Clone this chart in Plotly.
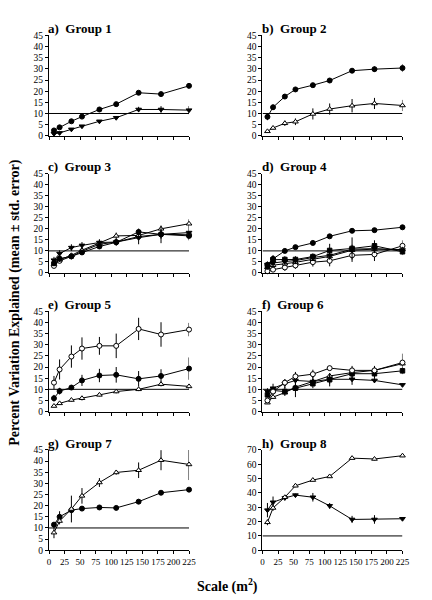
import plotly.graph_objects as go

# ---- data ----
scale = [8, 17, 36, 53, 81, 108, 144, 180, 225]
x_ticks = [0, 25, 50, 75, 100, 125, 150, 175, 200, 225]
threshold = 10

panel_titles = ["a)  Group 1", "b)  Group 2", "c)  Group 3", "d)  Group 4",
                "e)  Group 5", "f)  Group 6", "g)  Group 7", "h)  Group 8"]

# Group 1
a_circle = [2.4, 3.8, 6.5, 8.6, 11.8, 14.2, 19.3, 18.7, 22.4]
a_circle_err = [0.8, 0.5, 0.5, 0.5, 0.5, 0.5, 0.8, 0.8, 1.2]
a_tridown = [0.9, 1.3, 2.9, 4.3, 6.5, 8.1, 11.8, 11.8, 11.5]
a_tridown_err = [0.5, 0.5, 0.5, 0.5, 0.5, 0.5, 1.2, 1.5, 1.8]
# Group 2
b_circle = [8.5, 12.8, 17.6, 20.8, 22.7, 24.8, 29.2, 29.9, 30.4]
b_circle_err = [1.5, 1.2, 1.0, 0.8, 0.6, 0.6, 1.0, 1.2, 1.8]
b_tri = [2.0, 3.5, 5.6, 6.3, 9.8, 12.0, 13.5, 14.5, 13.6]
b_tri_err = [0.5, 0.8, 1.2, 1.5, 2.5, 2.5, 3.0, 2.5, 2.5]
# Group 3
c_tridown = [5.8, 8.8, 11.5, 12.5, 13.8, 14.0, 16.0, 17.5, 18.3]
c_tridown_err = [1.5, 1.5, 1.5, 1.5, 1.5, 1.5, 3.0, 4.0, 2.0]
c_circle = [4.5, 6.5, 7.5, 9.3, 12.0, 13.9, 18.6, 17.5, 16.8]
c_circle_err = [1.0, 1.0, 1.0, 1.0, 1.0, 1.5, 1.5, 2.0, 2.0]
c_tri = [4.0, 6.0, 8.0, 10.3, 13.6, 16.8, 17.0, 20.0, 22.3]
c_tri_err = [1.0, 1.0, 1.0, 1.0, 1.0, 1.5, 1.5, 1.0, 2.0]
c_ocircle = [3.2, 5.5, 7.5, 9.8, 13.0, 14.0, 16.5, 17.5, 17.3]
c_ocircle_err = [0.8, 0.8, 1.0, 1.0, 1.0, 1.0, 1.5, 1.5, 1.5]
# Group 4
d_circle = [3.7, 6.4, 10.0, 11.7, 13.6, 16.6, 19.1, 19.4, 20.7]
d_circle_err = [1.5, 1.5, 0.5, 0.5, 0.5, 0.5, 1.0, 0.5, 1.0]
d_square = [3.0, 6.0, 6.1, 6.1, 7.4, 10.2, 11.1, 12.3, 9.6]
d_square_err = [1.5, 2.0, 1.5, 1.5, 1.5, 3.0, 5.0, 2.5, 1.5]
d_tridown = [3.8, 4.5, 5.2, 5.6, 7.0, 8.0, 10.8, 11.0, 10.4]
d_tridown_err = [1.0, 1.5, 1.5, 1.5, 1.5, 2.0, 2.0, 2.0, 1.5]
d_ocircle = [0.8, 1.5, 2.5, 3.4, 4.9, 5.5, 8.0, 8.4, 12.3]
d_ocircle_err = [0.5, 0.8, 1.5, 1.5, 2.0, 2.5, 3.0, 3.0, 2.5]
d_tri = [2.5, 3.5, 4.2, 4.8, 6.2, 7.5, 10.3, 10.8, 10.6]
d_tri_err = [0.5, 0.5, 0.5, 0.5, 0.5, 0.5, 0.8, 0.8, 0.8]
# Group 5
e_ocircle = [13.0, 18.9, 24.7, 28.3, 29.5, 29.5, 37.1, 34.6, 36.8]
e_ocircle_err = [3.0, 4.5, 5.0, 5.0, 4.0, 5.5, 5.0, 5.5, 3.0]
e_circle = [6.0, 9.2, 10.8, 14.0, 16.2, 16.5, 14.7, 16.0, 19.3]
e_circle_err = [1.5, 1.5, 1.0, 2.5, 3.0, 3.5, 3.5, 3.0, 5.0]
e_tri = [2.5, 3.7, 5.2, 6.0, 7.5, 9.0, 10.0, 12.3, 11.3]
e_tri_err = [0.5, 0.5, 0.7, 1.0, 0.7, 0.8, 0.8, 1.0, 1.0]
# Group 6
f_ocircle = [5.0, 9.0, 13.0, 15.8, 16.8, 19.5, 18.5, 18.5, 22.0]
f_ocircle_err = [1.0, 1.5, 1.5, 2.0, 2.0, 1.0, 2.0, 2.0, 4.0]
f_tridown = [9.0, 10.5, 12.5, 14.0, 13.5, 14.5, 14.5, 14.0, 12.0]
f_tridown_err = [1.5, 2.0, 2.0, 2.0, 2.0, 2.0, 2.5, 1.0, 0.8]
f_square = [7.5, 9.5, 9.0, 10.5, 12.5, 14.3, 17.0, 17.0, 18.3]
f_square_err = [1.0, 1.5, 2.0, 4.0, 2.0, 3.0, 2.0, 2.0, 1.5]
f_tri = [4.0, 6.5, 8.5, 11.0, 13.5, 16.0, 17.5, 18.5, 21.5]
f_tri_err = [0.5, 0.8, 0.8, 0.8, 0.8, 0.8, 0.8, 0.8, 0.8]
# Group 7
g_tri = [7.9, 13.1, 18.5, 24.4, 30.4, 34.9, 35.9, 40.4, 38.5]
g_tri_err = [2.5, 1.5, 6.0, 3.5, 2.0, 1.0, 3.5, 4.5, 7.0]
g_circle = [11.5, 15.0, 18.0, 18.7, 19.2, 19.0, 21.8, 25.8, 27.2]
g_circle_err = [1.0, 2.5, 0.5, 0.5, 0.5, 0.5, 1.0, 0.5, 0.5]
# Group 8
h_tri = [19.5, 29.5, 37.0, 45.0, 49.0, 51.5, 64.3, 63.7, 66.0]
h_tri_err = [2.0, 2.0, 1.0, 1.0, 1.0, 1.0, 1.0, 1.0, 1.0]
h_tridown = [28.0, 33.5, 36.5, 38.5, 37.0, 31.0, 21.5, 21.5, 22.0]
h_tridown_err = [5.0, 4.0, 1.0, 1.0, 3.0, 2.0, 2.5, 3.0, 1.0]

panels = [
    [("circle", a_circle, a_circle_err), ("tridown", a_tridown, a_tridown_err)],
    [("circle", b_circle, b_circle_err), ("tri", b_tri, b_tri_err)],
    [("ocircle", c_ocircle, c_ocircle_err), ("tri", c_tri, c_tri_err),
     ("circle", c_circle, c_circle_err), ("tridown", c_tridown, c_tridown_err)],
    [("ocircle", d_ocircle, d_ocircle_err), ("tri", d_tri, d_tri_err),
     ("tridown", d_tridown, d_tridown_err), ("square", d_square, d_square_err),
     ("circle", d_circle, d_circle_err)],
    [("tri", e_tri, e_tri_err), ("circle", e_circle, e_circle_err),
     ("ocircle", e_ocircle, e_ocircle_err)],
    [("tri", f_tri, f_tri_err), ("square", f_square, f_square_err),
     ("tridown", f_tridown, f_tridown_err), ("ocircle", f_ocircle, f_ocircle_err)],
    [("circle", g_circle, g_circle_err), ("tri", g_tri, g_tri_err)],
    [("tridown", h_tridown, h_tridown_err), ("tri", h_tri, h_tri_err)],
]

y_max = [45, 45, 45, 45, 45, 45, 45, 70]
y_dtick = [5, 5, 5, 5, 5, 5, 5, 10]

# ---- styling ----
W, H = 432, 600
FONT = "Liberation Serif"
styles = {
    "circle": dict(symbol="circle", size=5, color="black", line=dict(color="black", width=1)),
    "ocircle": dict(symbol="circle", size=5, color="white", line=dict(color="black", width=1)),
    "tri": dict(symbol="triangle-up", size=5, color="white", line=dict(color="black", width=1)),
    "tridown": dict(symbol="triangle-down", size=5, color="black", line=dict(color="black", width=1)),
    "square": dict(symbol="square", size=4.5, color="black", line=dict(color="black", width=1)),
}

col_px = [(48, 191), (266, 409)]
row_px = [(31, 133), (171.5, 272.5), (311.5, 413.5), (452.5, 554.5)]

fig = go.Figure()
layout = {}
for i, series in enumerate(panels):
    r, c = divmod(i, 2)
    n = "" if i == 0 else str(i + 1)
    xa, ya = "x" + n, "y" + n
    x0p, x1p = col_px[c]
    t, b = row_px[r]
    layout["xaxis" + n] = dict(
        domain=[x0p / W, x1p / W], anchor=ya, range=[0, 225],
        tickvals=x_ticks, showticklabels=(r == 3), tickangle=0,
        showline=True, linecolor="black", linewidth=1, ticks="outside",
        ticklen=3, tickcolor="black", showgrid=False, zeroline=False,
        tickfont=dict(family=FONT, size=9, color="black"))
    layout["yaxis" + n] = dict(
        domain=[1 - b / H, 1 - t / H], anchor=xa, range=[0, y_max[i]],
        dtick=y_dtick[i], tick0=0,
        showline=True, linecolor="black", linewidth=1, ticks="outside",
        ticklen=3, tickcolor="black", showgrid=False, zeroline=False,
        tickfont=dict(family=FONT, size=9.5, color="black"))
    fig.add_shape(type="line", xref=xa, yref=ya, x0=0, x1=225,
                  y0=threshold, y1=threshold, line=dict(color="black", width=1),
                  layer="below")
    for kind, vals, err in series:
        fig.add_trace(go.Scatter(
            x=scale, y=vals, xaxis=xa, yaxis=ya, mode="lines+markers",
            line=dict(color="black", width=1), marker=styles[kind],
            error_y=dict(type="data", array=err, color="black", thickness=1, width=0),
            cliponaxis=False, showlegend=False))
    fig.add_annotation(text="<b>" + panel_titles[i] + "</b>", xref="paper", yref="paper",
                       x=(x0p - 3) / W, y=1 - (t - 7) / H, xanchor="left", yanchor="middle",
                       showarrow=False, font=dict(family=FONT, size=13, color="black"))

fig.add_annotation(text="<b>Percent Variation Explained (mean ± std. error)</b>",
                   xref="paper", yref="paper", x=13 / W, y=1 - 303 / H, textangle=-90,
                   xanchor="center", yanchor="middle", showarrow=False,
                   font=dict(family=FONT, size=14, color="black"))
fig.add_annotation(text="<b>Scale (m<sup>2</sup>)</b>", xref="paper", yref="paper",
                   x=230 / W, y=1 - 590 / H, xanchor="center", yanchor="middle",
                   showarrow=False, font=dict(family=FONT, size=14, color="black"))

fig.update_layout(width=W, height=H, margin=dict(l=0, r=0, t=0, b=0),
                  plot_bgcolor="white", paper_bgcolor="white", **layout)
fig.write_html("out.html")
